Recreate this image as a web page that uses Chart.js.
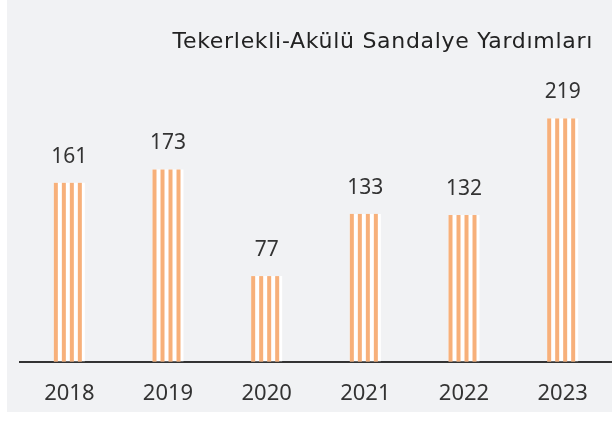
<!DOCTYPE html>
<html>
<head>
<meta charset="utf-8">
<script src="https://cdn.jsdelivr.net/npm/chart.js@4"></script>
<style>
  html, body { margin: 0; padding: 0; background: #fff; overflow: hidden; }
  #panel { position: absolute; left: 7px; top: 0; width: 605px; height: 412px; background: #f1f2f4; }
  #barChart { position: absolute; left: 7px; top: 0; }
</style>
</head>
<body>
<div id="panel"></div>
<canvas id="barChart" width="605" height="418"></canvas>
<script>
// values
const years = ['2018', '2019', '2020', '2021', '2022', '2023'];
const counts = [161, 173, 77, 133, 132, 219];
const chartTitle = 'Tekerlekli-Akülü Sandalye Yardımları';

const orange = 'rgb(247, 176, 122)';

// orange stripes over a white bar, the value above it, and the title
const stripes = {
  id: 'stripes',
  afterDatasetsDraw(chart) {
    const ctx = chart.ctx;
    const meta = chart.getDatasetMeta(0);
    ctx.save();
    meta.data.forEach((bar, i) => {
      const left = bar.x - bar.width / 2;
      const top = bar.y;
      const h = bar.base - bar.y;
      ctx.fillStyle = orange;
      for (let s = 0; s < 4; s++) {
        ctx.fillRect(left + s * 8, top, 4, h);
      }
      ctx.fillStyle = '#333';
      ctx.font = '21px "Noto Sans"';
      ctx.textAlign = 'center';
      ctx.textBaseline = 'middle';
      ctx.fillText(counts[i], bar.x, top - 26);
    });
    ctx.fillStyle = '#222';
    ctx.font = '22px "DejaVu Sans"';
    ctx.letterSpacing = '0.7px';
    ctx.textAlign = 'right';
    ctx.textBaseline = 'middle';
    ctx.fillText(chartTitle, 586, 42);
    ctx.restore();
  }
};

new Chart(document.getElementById('barChart'), {
  type: 'bar',
  data: {
    labels: years,
    datasets: [{
      data: counts,
      backgroundColor: '#ffffff',
      barPercentage: 0.314,
      categoryPercentage: 1
    }]
  },
  options: {
    responsive: false,
    animation: false,
    layout: { padding: { top: 84, left: 13, right: 0, bottom: 0 } },
    plugins: {
      legend: { display: false },
      tooltip: { enabled: false }
    },
    scales: {
      x: {
        grid: { display: false },
        border: { display: true, color: '#333', width: 2 },
        ticks: { color: '#333', font: { family: 'Noto Sans', size: 22 }, padding: 11 }
      },
      y: {
        display: false,
        min: 0,
        max: 250
      }
    }
  },
  plugins: [stripes]
});
</script>
</body>
</html>
